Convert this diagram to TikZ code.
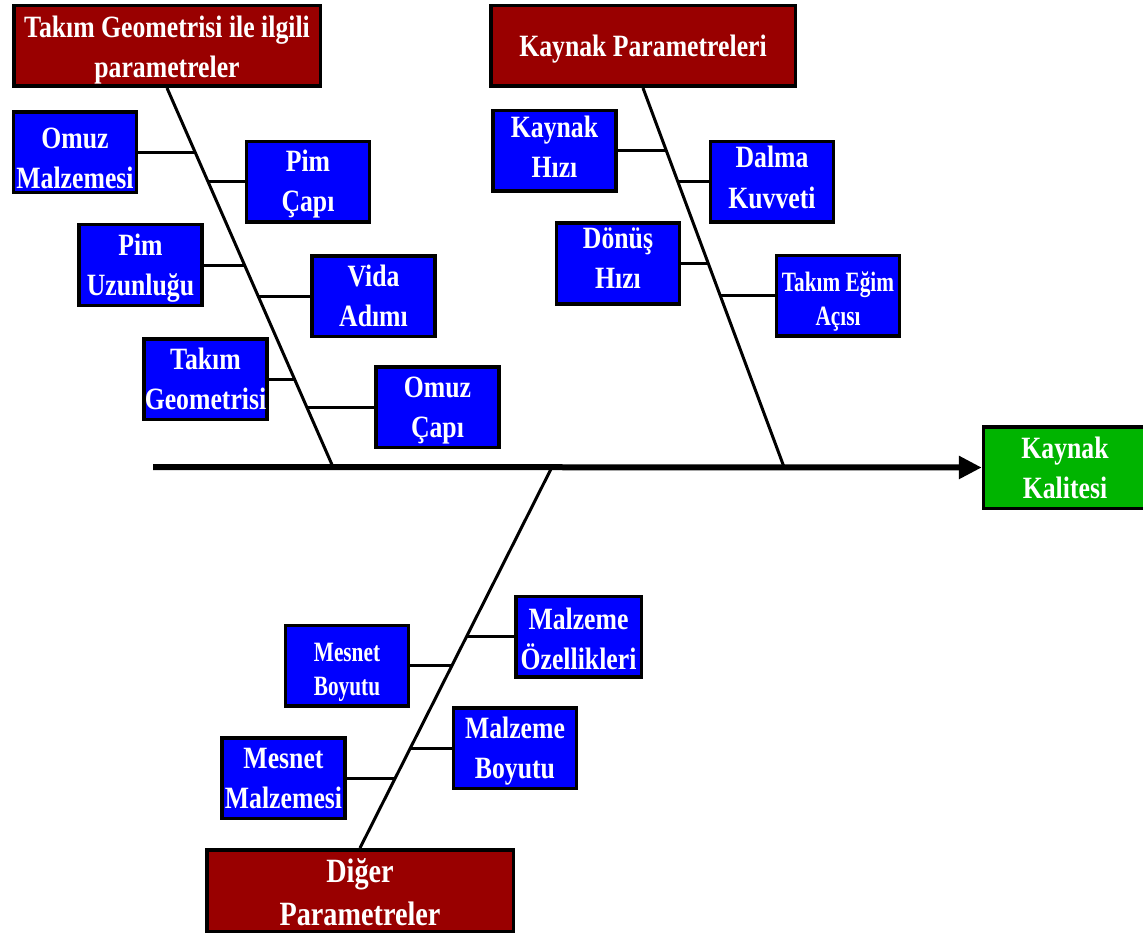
\documentclass[tikz,border=0pt]{standalone}
\usepackage{fontspec}
\setmainfont{Liberation Serif}
\newfontfamily\boxfont[FakeStretch=0.83]{Liberation Serif}
\newfontfamily\narrowfont[FakeStretch=0.76]{Liberation Serif}
\usetikzlibrary{arrows.meta}
\definecolor{headred}{RGB}{153,0,0}
\definecolor{causeblue}{RGB}{0,0,255}
\definecolor{effectgreen}{RGB}{0,180,0}
\tikzset{
	box/.style={draw=black, line width=3.5pt, inner sep=0pt, align=center, text=white, minimum width=123pt, minimum height=80.5pt, font=\boxfont\bfseries\fontsize{31}{40}\selectfont, text height=60pt, text depth=0pt},
	cause/.style={box, fill=causeblue},
	small cause/.style={cause, font=\narrowfont\bfseries\fontsize{28}{34}\selectfont, text height=60pt, text depth=0pt},
	head/.style={box, fill=headred, minimum width=306.5pt},
	bone/.style={line width=3pt},
}
\begin{document}
\begin{tikzpicture}[x=1pt,y=-1pt]
			\useasboundingbox (0,0) rectangle (1143,936);
			\node[head, text height=64pt] (T1) at (167,46) {Takım Geometrisi ile ilgili\\parametreler};
			\node[head, minimum width=304.5pt, text height=24pt, text depth=2pt] (T2) at (643,46) {Kaynak Parametreleri};
			\node[head, minimum height=81.5pt, font=\boxfont\bfseries\fontsize{34}{43}\selectfont, text height=69pt] (T3) at (360,890.5) {Diğer\\Parametreler};
			\node[box, fill=effectgreen, anchor=west, minimum width=163pt, minimum height=81.5pt, text height=61pt] (K) at (981.75,467.5) {Kaynak\\Kalitesi};
			\node[cause, text height=73pt] (OM) at (75,152.5) {Omuz\\Malzemesi};
			\node[cause] (PC) at (308,182) {Pim\\Çapı};
			\node[cause] (PU) at (140.5,265) {Pim\\Uzunluğu};
			\node[cause] (VA) at (373.5,296) {Vida\\Adımı};
			\node[cause] (TG) at (205.5,379) {Takım\\Geometrisi};
			\node[cause] (OC) at (437.5,407) {Omuz\\Çapı};
			\node[cause, text height=53pt] (KH) at (554.5,151) {Kaynak\\Hızı};
			\node[cause, text height=52pt] (DK) at (772,182) {Dalma\\Kuvveti};
			\node[cause, text height=50pt] (DH) at (618,263.5) {Dönüş\\Hızı};
			\node[small cause] (TE) at (838,295.5) {Takım Eğim\\Açısı};
			\node[cause, minimum width=125.5pt, text height=66pt] (MO) at (578.5,636.5) {Malzeme\\Özellikleri};
			\node[small cause] (MB) at (347,665.5) {Mesnet\\Boyutu};
			\node[cause] (MZ) at (515,748) {Malzeme\\Boyutu};
			\node[cause] (MM) at (283.5,778) {Mesnet\\Malzemesi};
			\coordinate (S) at (153,467);
			\coordinate (M1) at (333,467);
			\coordinate (M2) at (784,467);
			\coordinate (M3) at (552,467);
			\coordinate (J1) at (196,152.5);
			\coordinate (J2) at (208.8,182);
			\coordinate (J3) at (245,265);
			\coordinate (J4) at (258.5,296);
			\coordinate (J5) at (294.7,379);
			\coordinate (J6) at (306.9,407);
			\coordinate (J7) at (667,151);
			\coordinate (J8) at (678.4,182);
			\coordinate (J9) at (708.6,263.5);
			\coordinate (J10) at (720.4,295.5);
			\coordinate (J11) at (466.9,636.5);
			\coordinate (J12) at (452.4,665.5);
			\coordinate (J13) at (410.9,748);
			\coordinate (J14) at (395.9,778);
			\draw[line width=6pt, -{Triangle[length=23pt,width=22pt]}] (S) -- (K.west);
			\draw[bone] (T1.south) -- (M1);
			\draw[bone] (T2.south) -- (M2);
			\draw[bone] (T3.north) -- (M3);
			\draw[bone] (OM) -- (J1);
			\draw[bone] (PC) -- (J2);
			\draw[bone] (PU) -- (J3);
			\draw[bone] (VA) -- (J4);
			\draw[bone] (TG) -- (J5);
			\draw[bone] (OC) -- (J6);
			\draw[bone] (KH) -- (J7);
			\draw[bone] (DK) -- (J8);
			\draw[bone] (DH) -- (J9);
			\draw[bone] (TE) -- (J10);
			\draw[bone] (MO) -- (J11);
			\draw[bone] (MB) -- (J12);
			\draw[bone] (MZ) -- (J13);
			\draw[bone] (MM) -- (J14);
		\end{tikzpicture}
\end{document}
